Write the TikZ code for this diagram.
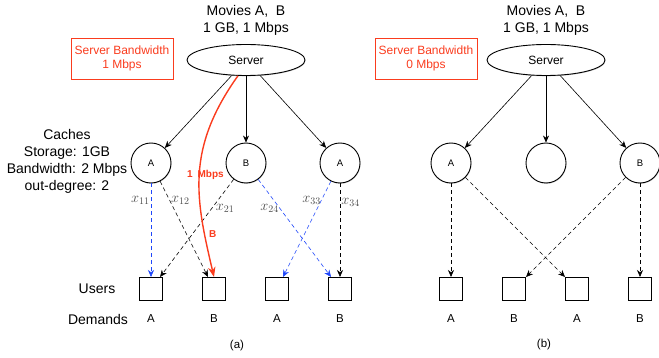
\documentclass[tikz,border=0pt]{standalone}
\usepackage{fontspec}
\setmainfont{Liberation Sans}
\usetikzlibrary{arrows.meta,positioning,shapes.geometric,shadows}
\definecolor{bwred}{RGB}{250,60,30}
\definecolor{xblue}{RGB}{30,70,250}
\tikzset{
  softshadow/.style={drop shadow={shadow xshift=0.5pt,shadow yshift=-0.8pt,opacity=0.45}},
  server/.style={ellipse,draw,fill=white,softshadow,line width=0.9pt,minimum width=118pt,minimum height=31pt,inner sep=0pt,font=\fontsize{12}{14}\selectfont},
  cache/.style={circle,draw,fill=white,softshadow,line width=0.9pt,minimum size=40pt,inner sep=0pt,font=\fontsize{9.5}{11}\selectfont},
  user/.style={rectangle,draw,fill=white,softshadow,line width=1pt,minimum size=23pt,inner sep=0pt},
  bwbox/.style={rectangle,draw=bwred,text=bwred,line width=0.6pt,minimum width=102pt,minimum height=41pt,align=center,inner sep=0pt,font=\fontsize{12}{14.5}\selectfont},
  bigtext/.style={align=center,font=\fontsize{14}{17}\selectfont},
  demand/.style={font=\fontsize{11.5}{13}\selectfont},
  feed/.style={->,line width=0.6pt},
  link/.style={->,dash pattern=on 4pt off 3pt,line width=0.6pt},
  bluelink/.style={link,draw=xblue},
  flow/.style={-{Stealth[length=10pt,width=7.5pt]},draw=bwred,line width=1.4pt},
  flowlab/.style={text=bwred,font=\bfseries\fontsize{10}{12}\selectfont,inner sep=1pt},
  xlab/.style={text=black!70,font=\fontsize{14}{16}\selectfont,inner sep=1pt}
}

\begin{document}
\begin{tikzpicture}[x=1pt,y=-1pt,on grid,>={Stealth[length=7pt,width=6pt]}]
  \useasboundingbox (0,0) rectangle (659,358);
  % (a) one server with 1 Mbps
  \node[server] (srvA) at (246,60) {Server};
  \node[bigtext,above=40pt of srvA] (movA) {Movies A,\ \ B\\1 GB, 1 Mbps};
  \node[bwbox] (bwA) at (122,58.5) {Server Bandwidth\\1 Mbps};
  \node[bigtext] (cachetxt) at (67,161.5) {Caches\\Storage: 1GB\\Bandwidth: 2 Mbps\\out-degree: 2};
  \node[cache] (c1) at (151,163) {A};
  \node[cache,right=95pt of c1] (c2) {B};
  \node[cache,right=94pt of c2] (c3) {A};
  \node[user] (u1) at (151,289) {};
  \node[user,right=63pt of u1] (u2) {};
  \node[user,right=63pt of u2] (u3) {};
  \node[user,right=63pt of u3] (u4) {};
  \node[demand,below=30pt of u1] (d1) {A};
  \node[demand,below=30pt of u2] (d2) {B};
  \node[demand,below=30pt of u3] (d3) {A};
  \node[demand,below=30pt of u4] (d4) {B};
  \node[bigtext,left=54pt of u1] (usr) {Users};
  \node[bigtext,left=53pt of d1] (dem) {Demands};
  \node[demand] (capa) at (237,346) {(a)};
  \path[feed]
    (srvA) edge (c1)
    (srvA) edge (c2)
    (srvA) edge (c3);
  \path
    (c1) edge[bluelink] node[xlab,pos=.18,left] {$x_{11}$} (u1)
    (c1) edge[link] node[xlab,pos=.2,right] {$x_{12}$} (u2)
    (c2) edge[link] node[xlab,pos=.3,right=3pt] {$x_{21}$} (u1)
    (c2) edge[bluelink] node[xlab,pos=.3,left] {$x_{24}$} (u4)
    (c3) edge[bluelink] node[xlab,pos=.2,left=-1pt] {$x_{33}$} (u3)
    (c3) edge[link] node[xlab,pos=.2,right] {$x_{34}$} (u4);
  \draw[flow] (srvA.-117) .. controls (185,150) and (196,200) .. (u2.north)
    node[flowlab,pos=.5,xshift=6pt] {1\hspace{5pt}Mbps}
    node[flowlab,pos=.8,right=3pt] {B};

  % (b) server with 0 Mbps
  \node[server] (srvB) at (546,60) {Server};
  \node[bigtext,above=40pt of srvB] (movB) {Movies A,\ \ B\\1 GB, 1 Mbps};
  \node[bwbox] (bwB) at (426,58.5) {Server Bandwidth\\0 Mbps};
  \node[cache] (c4) at (451,163) {A};
  \node[cache,right=95pt of c4] (c5) {};
  \node[cache,right=94pt of c5] (c6) {B};
  \node[user] (u5) at (451,289) {};
  \node[user,right=63pt of u5] (u6) {};
  \node[user,right=63pt of u6] (u7) {};
  \node[user,right=63pt of u7] (u8) {};
  \node[demand,below=30pt of u5] (d5) {A};
  \node[demand,below=30pt of u6] (d6) {B};
  \node[demand,below=30pt of u7] (d7) {A};
  \node[demand,below=30pt of u8] (d8) {B};
  \node[demand] (capb) at (544,345) {(b)};
  \path[feed]
    (srvB) edge (c4)
    (srvB) edge (c5)
    (srvB) edge (c6);
  \path
    (c4) edge[link] (u5)
    (c4) edge[link] (u7)
    (c6) edge[link] (u6)
    (c6) edge[link] (u8);
\end{tikzpicture}
\end{document}
